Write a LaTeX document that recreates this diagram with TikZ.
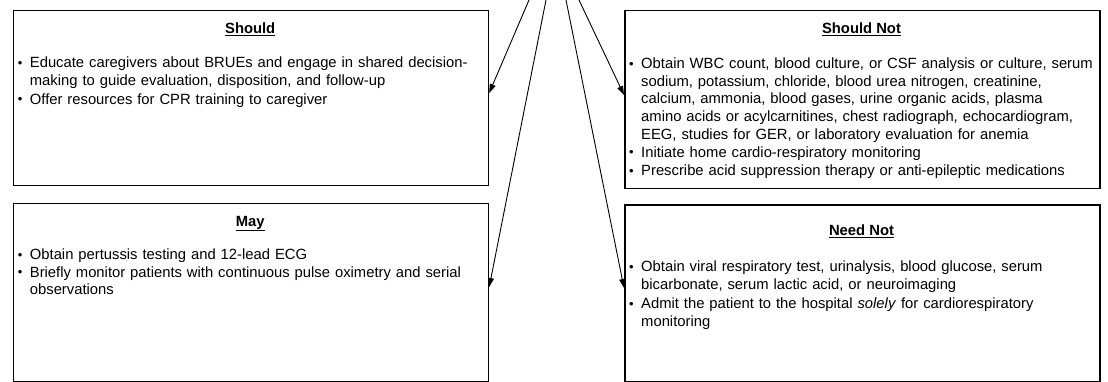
\documentclass[tikz,border=0pt]{standalone}
\usepackage{fontspec}
\setmainfont{Liberation Sans}
\usetikzlibrary{arrows.meta}
\newcommand{\bulmark}{\makebox[17pt][l]{\hspace{5pt}\raisebox{0.3pt}{\fontsize{13}{13}\selectfont •}}}
\newcommand{\listitem}[1]{\par\hangindent=17pt\hangafter=1\noindent\bulmark#1\par}
\tikzset{
  box/.style={draw=black, line width=1.5pt, minimum width=475pt, anchor=north west, inner sep=0pt},
  boxtitle/.style={anchor=base, inner sep=0pt, font=\fontsize{14.8}{17.6}\selectfont\bfseries},
  boxlist/.style={anchor=north west, inner sep=0pt, text width=500pt, align=left,
    font=\fontsize{14.8}{17.6}\selectfont},
  arr/.style={draw=black, line width=0.9pt, -{Triangle[length=9pt,width=6pt]}}
}
\begin{document}
\begin{tikzpicture}[x=1pt,y=-1pt]
\useasboundingbox (0,0) rectangle (1108,382);
% boxes
\node[box, minimum height=175pt] (should) at (12.7,10) {};
\node[box, minimum height=178pt] (may) at (12.7,202.7) {};
\node[box, minimum height=177.7pt] (shouldnot) at (624,10) {};
\node[box, minimum height=176.4pt] (neednot) at (624,204.3) {};
% titles
\node[boxtitle] (tshould) at (250.2,33.5) {\underline{Should}};
\node[boxtitle] (tmay) at (250.2,226) {\underline{May}};
\node[boxtitle] (tshouldnot) at (861.5,33.7) {\underline{Should Not}};
\node[boxtitle] (tneednot) at (861.5,236) {\underline{Need Not}};
% lists
\node[boxlist] (lshould) at (12.7,48.2) {\setlength{\parskip}{1.5pt}%
\listitem{Educate caregivers about BRUEs and engage in shared decision-\newline making to guide evaluation, disposition, and follow-up}%
\listitem{Offer resources for CPR training to caregiver}};
\node[boxlist] (lmay) at (12.7,241.7) {\setlength{\parskip}{0pt}%
\listitem{Obtain pertussis testing and 12-lead ECG}%
\listitem{Briefly monitor patients with continuous pulse oximetry and serial\newline observations}};
\node[boxlist] (lshouldnot) at (624,50.5) {\setlength{\parskip}{0.5pt}%
\listitem{Obtain WBC count, blood culture, or CSF analysis or culture, serum\newline sodium, potassium, chloride, blood urea nitrogen, creatinine,\newline calcium, ammonia, blood gases, urine organic acids, plasma\newline amino acids or acylcarnitines, chest radiograph, echocardiogram,\newline EEG, studies for GER, or laboratory evaluation for anemia}%
\listitem{Initiate home cardio-respiratory monitoring}%
\listitem{Prescribe acid suppression therapy or anti-epileptic medications}};
\node[boxlist] (lneednot) at (624,252.2) {\setlength{\parskip}{1.8pt}%
\listitem{Obtain viral respiratory test, urinalysis, blood glucose, serum\newline bicarbonate, serum lactic acid, or neuroimaging}%
\listitem{Admit the patient to the hospital \textit{solely} for cardiorespiratory\newline monitoring}};
% connectors
\coordinate (s1) at (529,0);
\coordinate (s2) at (546,0);
\coordinate (s3) at (566,0);
\coordinate (s4) at (579,0);
\coordinate (h1) at (0,93);
\coordinate (h2) at (0,287);
\coordinate (h3) at (0,288);
\coordinate (h4) at (0,95);
\draw[arr] (s1) -- (should.east |- h1);
\draw[arr] (s2) -- (may.east |- h2);
\draw[arr] (s3) -- (neednot.west |- h3);
\draw[arr] (s4) -- (shouldnot.west |- h4);
\end{tikzpicture}
\end{document}
